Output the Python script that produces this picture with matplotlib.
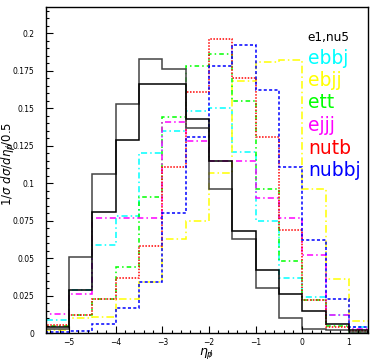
import matplotlib
matplotlib.use('Agg')
import matplotlib.pyplot as plt
from matplotlib.ticker import MultipleLocator, FixedLocator, FixedFormatter

plt.rcParams['font.family'] = ['DejaVu Sans']

# bin edges of the eta histograms (width 0.5)
edges = [-5.5, -5.0, -4.5, -4.0, -3.5, -3.0, -2.5, -2.0, -1.5, -1.0, -0.5, 0.0, 0.5, 1.0, 1.5]

# values
e1   = [0.003, 0.051, 0.106, 0.153, 0.183, 0.176, 0.137, 0.096, 0.063, 0.030, 0.010, 0.003, 0.002, 0.001]
nu5  = [0.004, 0.029, 0.081, 0.129, 0.166, 0.166, 0.143, 0.115, 0.068, 0.042, 0.026, 0.015, 0.006, 0.002]
ebbj = [0.009, 0.029, 0.059, 0.078, 0.120, 0.135, 0.148, 0.150, 0.121, 0.075, 0.037, 0.024, 0.012, 0.004]
ebjj = [0.002, 0.010, 0.011, 0.023, 0.034, 0.063, 0.075, 0.107, 0.168, 0.181, 0.182, 0.096, 0.036, 0.008]
ett  = [0.005, 0.012, 0.023, 0.044, 0.091, 0.144, 0.178, 0.186, 0.155, 0.096, 0.048, 0.022, 0.005, 0.001]
ejjj = [0.013, 0.026, 0.077, 0.077, 0.077, 0.141, 0.128, 0.115, 0.115, 0.090, 0.077, 0.052, 0.012, 0.003]
nutb = [0.0055, 0.012, 0.023, 0.037, 0.058, 0.111, 0.161, 0.196, 0.170, 0.131, 0.069, 0.022, 0.004, 0.0015]
nubbj = [0.0007, 0.0018, 0.006, 0.017, 0.034, 0.080, 0.131, 0.178, 0.192, 0.162, 0.111, 0.062, 0.023, 0.004]

yticks = [0, 0.025, 0.05, 0.075, 0.1, 0.125, 0.15, 0.175, 0.2]
ytick_labels = ['0', '0.025', '0.05', '0.075', '0.1', '0.125', '0.15', '0.175', '0.2']

fig = plt.figure(figsize=(3.7, 3.62), dpi=100)
ax = fig.add_axes([0.1235, 0.0793, 0.871, 0.902])

ax.stairs(ebbj, edges, color='#00ffff', lw=1.1, linestyle=(0, (4, 2, 1, 2)))
ax.stairs(ebjj, edges, color='#ffff00', lw=1.1, linestyle=(0, (5, 2, 1, 2)))
ax.stairs(ett, edges, color='#00ff00', lw=1.1, linestyle=(0, (3, 2, 1, 2)))
ax.stairs(ejjj, edges, color='#ff00ff', lw=1.1, linestyle=(0, (4, 2, 1, 2)))
ax.stairs(nutb, edges, color='#ff0000', lw=1.1, linestyle=(0, (1, 1)))
ax.stairs(nubbj, edges, color='#0000ff', lw=1.1, linestyle=(0, (2, 1.5)))
ax.stairs(e1, edges, color='#444444', lw=1.1)
ax.stairs(nu5, edges, color='black', lw=1.1)

ax.set_xlim(-5.5, 1.41)
ax.set_ylim(0, 0.2177)

ax.xaxis.set_major_locator(MultipleLocator(1))
ax.xaxis.set_minor_locator(MultipleLocator(0.2))
ax.yaxis.set_major_locator(FixedLocator(yticks))
ax.yaxis.set_major_formatter(FixedFormatter(ytick_labels))
ax.yaxis.set_minor_locator(MultipleLocator(0.005))
ax.tick_params(which='both', direction='in', top=False, right=False, labelsize=5.5, width=0.8)
ax.tick_params(which='major', length=4.8)
ax.tick_params(which='minor', length=2.4)
ax.tick_params(axis='y', pad=8.2)
ax.tick_params(axis='x', pad=3.4)
for s in ax.spines.values():
    s.set_linewidth(1.0)

ax.set_xlabel(r'$\eta_{p\!\!\!/}$', fontsize=9)
ax.xaxis.set_label_coords(0.5, -0.04)
ax.set_ylabel(r'$1/\sigma\ d\sigma/d\eta_{p\!\!\!/}/0.5$', fontsize=8.5)
ax.yaxis.set_label_coords(-0.086, 0.52)

# legend-like labels on the right
fig.text(307.7 / 370, 1 - 40.7 / 362, 'e1,nu5', color='black', fontsize=8.7, va='baseline')
names = ['ebbj', 'ebjj', 'ett', 'ejjj', 'nutb', 'nubbj']
colors = ['#00ffff', '#ffff00', '#00ff00', '#ff00ff', '#ff0000', '#0000ff']
for i, (n, c) in enumerate(zip(names, colors)):
    fig.text(308 / 370, 1 - (63.5 + 22.5 * i) / 362, n, color=c, fontsize=13.5, va='baseline')

fig.savefig('out.png', dpi=100)
